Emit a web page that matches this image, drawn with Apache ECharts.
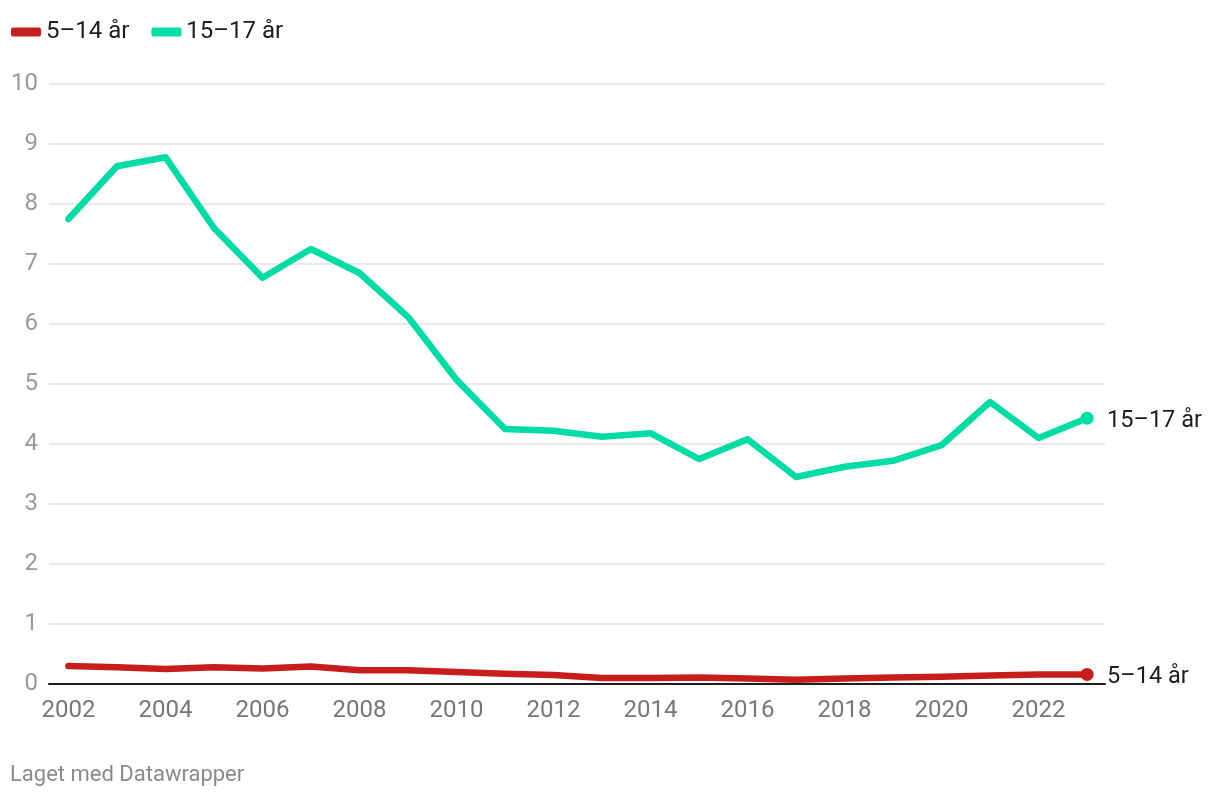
<!DOCTYPE html>
<html><head><meta charset="utf-8">
<script src="https://cdn.jsdelivr.net/npm/echarts@6/dist/echarts.min.js"></script>
<style>html,body{margin:0;padding:0;background:#fff}#c{width:1220px;height:800px}</style>
</head><body><div id="c"></div>
<script>
const years = [2002,2003,2004,2005,2006,2007,2008,2009,2010,2011,2012,2013,2014,2015,2016,2017,2018,2019,2020,2021,2022,2023];
const age5to14 = [0.30,0.28,0.25,0.28,0.26,0.29,0.23,0.23,0.20,0.17,0.15,0.10,0.10,0.11,0.09,0.07,0.09,0.11,0.12,0.14,0.16,0.16];
const age15to17 = [7.75,8.63,8.78,7.60,6.77,7.25,6.85,6.12,5.07,4.25,4.22,4.12,4.18,3.75,4.08,3.45,3.62,3.72,3.98,4.70,4.10,4.43];
const xTicks = [2002,2004,2006,2008,2010,2012,2014,2016,2018,2020,2022];
const seriesNames = ['5–14 år','15–17 år'];
const colors = ['#c71e1d','#00dca6'];

const font = 'Roboto, "Noto Sans", sans-serif';
function mk(name, vals, color){
  const n = vals.length;
  return {
    name, type:'line', data: years.map((y,i)=>[y,vals[i]]),
    lineStyle:{width:6.5,color,cap:'round',join:'round'},
    itemStyle:{color},
    symbol:(v,p)=>p.dataIndex===n-1?'circle':'none',
    symbolSize:13, showSymbol:true,
    endLabel:{show:true,formatter:'{a}',color:'#1d1d1d',fontSize:23.5,fontFamily:font,distance:20,offset:[0,3]},
    emphasis:{disabled:true}, animation:false, z:3
  };
}
const chart = echarts.init(document.getElementById('c'));
chart.setOption({
  backgroundColor:'#fff',
  animation:false,
  textStyle:{fontFamily:font},
  legend:{left:11,top:20,padding:0,itemWidth:30,itemHeight:9,itemGap:22,icon:'roundRect',
    textStyle:{fontSize:24,color:'#1d1d1d',fontFamily:font},
    data:seriesNames},
  graphic:[{type:'text',left:10,top:764,style:{text:'Laget med Datawrapper',fill:'#8a8a8a',fontSize:22,fontFamily:font}}],
  grid:{left:49,right:115,top:84,bottom:116,containLabel:false},
  xAxis:{type:'value',min:2001.6,max:2023.37,
    axisLine:{show:true,onZero:true,lineStyle:{color:'#1d1d1d',width:2}},
    axisTick:{show:false},splitLine:{show:false},
    axisLabel:{customValues:xTicks,color:'#777',fontSize:24,margin:15,fontFamily:font,formatter:v=>String(v)}},
  yAxis:{type:'value',min:0,max:10,interval:1,
    axisLine:{show:false},axisTick:{show:false},
    splitLine:{lineStyle:{color:'#e2e2e2',width:1.5}},
    axisLabel:{color:'#9a9a9a',fontSize:24,margin:11,fontFamily:font}},
  series:[mk(seriesNames[0],age5to14,colors[0]), mk(seriesNames[1],age15to17,colors[1])]
});
</script></body></html>
